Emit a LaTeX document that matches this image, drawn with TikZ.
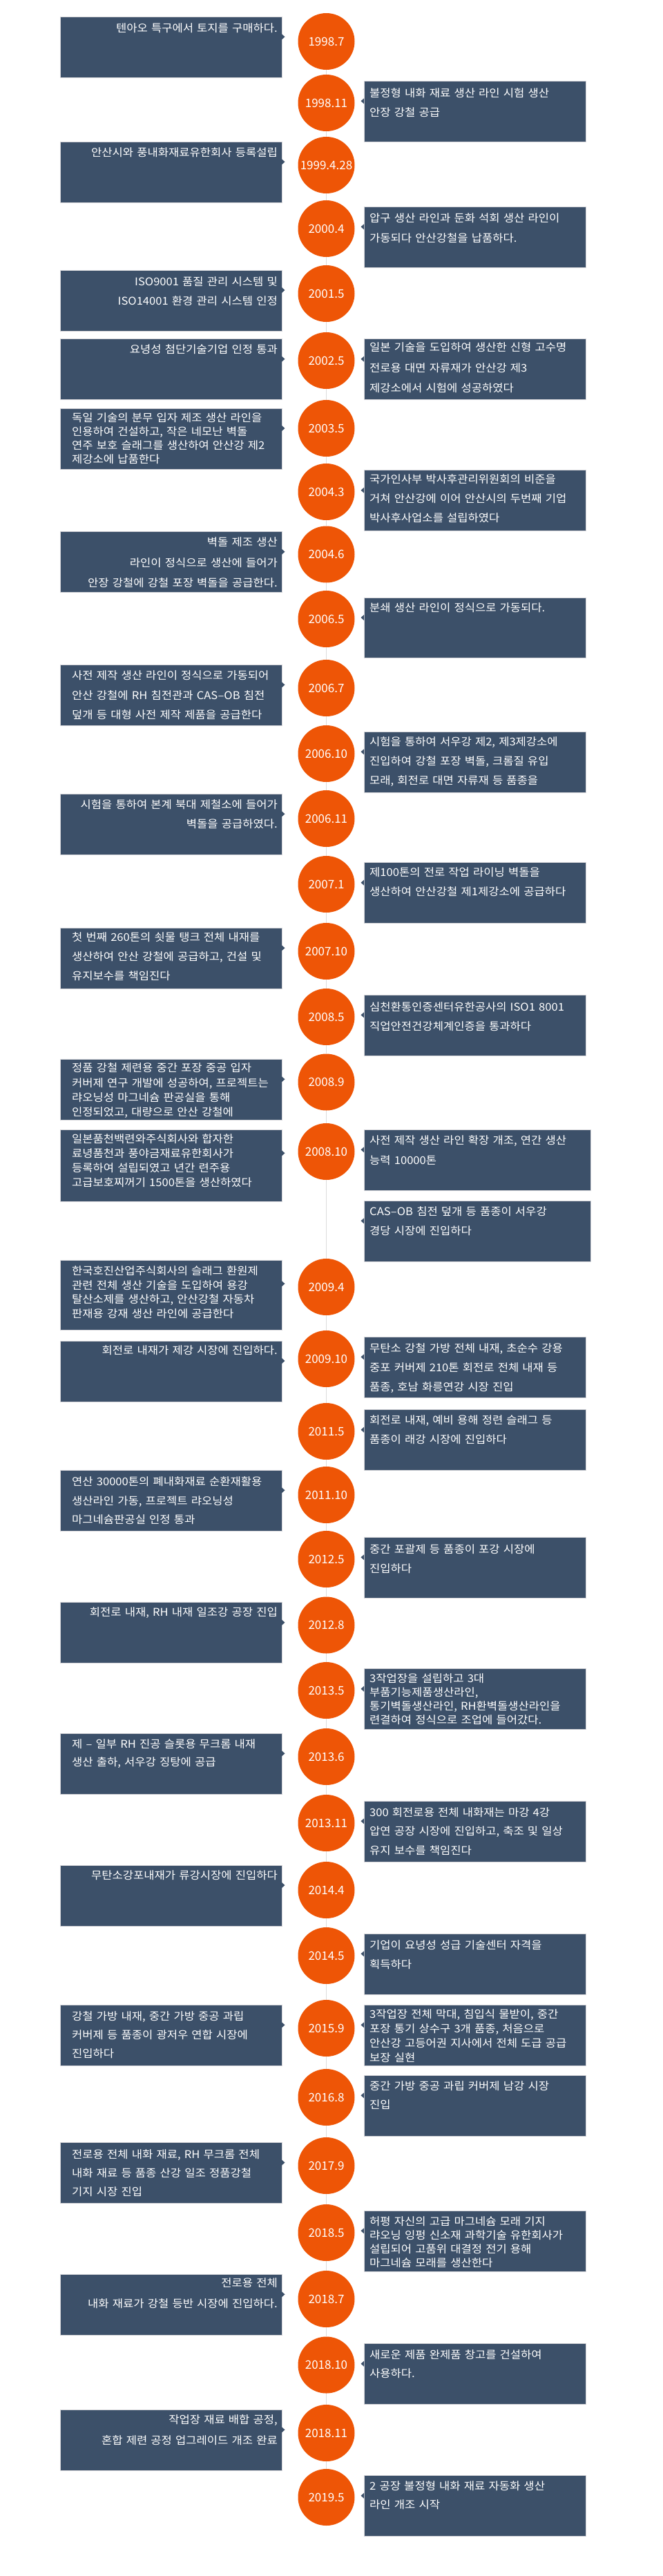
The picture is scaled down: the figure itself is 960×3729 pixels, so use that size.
\documentclass[tikz,border=0pt]{standalone}
\usepackage{fontspec}
\newfontfamily\kr{Noto Sans CJK KR}[FakeStretch=1.07]
\newfontfamily\krd{Noto Sans CJK KR}
\definecolor{boxc}{RGB}{60,80,105}
\definecolor{orangec}{RGB}{238,85,6}
\definecolor{bordc}{RGB}{212,212,216}
\definecolor{connc}{RGB}{220,220,220}
\tikzset{
  ebox/.style={draw=bordc, line width=0.8pt, fill=boxc, minimum width=321pt, anchor=north west, inner sep=0pt, outer sep=0pt},
  dot/.style={circle, fill=orangec, minimum size=82pt, inner sep=0pt, text=white, font=\krd\fontsize{17}{20}\selectfont},
  conn/.style={draw=connc, line width=0.8pt},
  txt/.style={text=white, inner sep=0pt, text width=330pt},
  tl/.style={txt, align=left, anchor=base west, font=\kr\fontsize{15.5}{#1}\selectfont},
  tl/.default=28,
  tr/.style={txt, align=right, anchor=base east, font=\kr\fontsize{15.5}{#1}\selectfont},
  tr/.default=28,
}
\newcommand\lbox[4]{%
  \node[ebox, minimum height=#3pt] (#1) at (87,#2) {};
  \fill[boxc] ([yshift={-(#4-4)*1pt}]#1.north east) -- ++(4.5,4) -- ++(-4.5,4) -- cycle;}
\newcommand\rbox[5][321]{%
  \node[ebox, minimum height=#4pt, minimum width=#1pt] (#2) at (527,#3) {};
  \fill[boxc] ([yshift={-(#5-4)*1pt}]#2.north west) -- ++(-4.5,4) -- ++(4.5,4) -- cycle;}
\begin{document}
\begin{tikzpicture}[x=1pt,y=-1pt]
\useasboundingbox (0,0) rectangle (960,3729);
% circles
\node[dot] (c1) at (472.5,60) {1998.7};
\node[dot] (c2) at (472.5,149) {1998.11};
\node[dot] (c3) at (472.5,239) {1999.4.28};
\node[dot] (c4) at (472.5,331) {2000.4};
\node[dot] (c5) at (472.5,425) {2001.5};
\node[dot] (c6) at (472.5,522) {2002.5};
\node[dot] (c7) at (472.5,620) {2003.5};
\node[dot] (c8) at (472.5,712) {2004.3};
\node[dot] (c9) at (472.5,802.5) {2004.6};
\node[dot] (c10) at (472.5,896) {2006.5};
\node[dot] (c11) at (472.5,996) {2006.7};
\node[dot] (c12) at (472.5,1091) {2006.10};
\node[dot] (c13) at (472.5,1185) {2006.11};
\node[dot] (c14) at (472.5,1280) {2007.1};
\node[dot] (c15) at (472.5,1377) {2007.10};
\node[dot] (c16) at (472.5,1472) {2008.5};
\node[dot] (c17) at (472.5,1566.5) {2008.9};
\node[dot] (c18) at (472.5,1667) {2008.10};
\node[dot] (c19) at (472.5,1863) {2009.4};
\node[dot] (c20) at (472.5,1967) {2009.10};
\node[dot] (c21) at (472.5,2072) {2011.5};
\node[dot] (c22) at (472.5,2164) {2011.10};
\node[dot] (c23) at (472.5,2257) {2012.5};
\node[dot] (c24) at (472.5,2352.5) {2012.8};
\node[dot] (c25) at (472.5,2447) {2013.5};
\node[dot] (c26) at (472.5,2543) {2013.6};
\node[dot] (c27) at (472.5,2639) {2013.11};
\node[dot] (c28) at (472.5,2736) {2014.4};
\node[dot] (c29) at (472.5,2831) {2014.5};
\node[dot] (c30) at (472.5,2936) {2015.9};
\node[dot] (c31) at (472.5,3036) {2016.8};
\node[dot] (c32) at (472.5,3135) {2017.9};
\node[dot] (c33) at (472.5,3232) {2018.5};
\node[dot] (c34) at (472.5,3328) {2018.7};
\node[dot] (c35) at (472.5,3423.5) {2018.10};
\node[dot] (c36) at (472.5,3522) {2018.11};
\node[dot] (c37) at (472.5,3615) {2019.5};
\foreach \i [evaluate=\i as \j using int(\i+1)] in {1,...,36}
  \draw[conn] (c\i.south) -- (c\j.north);
% boxes
\lbox{b1}{24.3}{88}{29}
\rbox{b2}{117.3}{88}{29}
\lbox{b3}{205.3}{88}{29}
\rbox{b4}{299.3}{88}{29}
\lbox{b5}{391}{88.3}{29}
\lbox{b6a}{490.7}{87.3}{29}
\rbox{b6b}{490.7}{87.3}{29}
\lbox{b7}{591}{88.3}{29}
\rbox{b8}{680.7}{87.3}{29}
\lbox{b9}{769.7}{87.6}{29}
\rbox{b10}{865}{87.3}{29}
\lbox{b11}{962.3}{88}{29}
\rbox{b12}{1059.3}{88}{29}
\lbox{b13}{1149.3}{87.7}{29}
\rbox{b14}{1248.7}{87.6}{29}
\lbox{b15}{1343.3}{88}{29}
\rbox{b16}{1440.3}{88}{29}
\lbox{b17}{1533.3}{87.7}{29}
\lbox{b18a}{1635.3}{104}{34}
\rbox[328]{b18b}{1635.3}{88}{29}
\rbox[328]{b18c}{1738.3}{87.7}{29}
\lbox{b19}{1824.3}{100.7}{34}
\lbox{b20a}{1941}{88.3}{29}
\rbox{b20b}{1935.3}{88}{29}
\rbox{b21}{2040.7}{87.3}{29}
\lbox{b22}{2128.3}{87.7}{29}
\rbox{b23}{2225.3}{88}{29}
\lbox{b24}{2319.7}{87.6}{29}
\rbox{b25}{2415.7}{87.6}{29}
\lbox{b26}{2509.3}{88}{29}
\rbox{b27}{2607.3}{88}{29}
\lbox{b28}{2700}{88.3}{29}
\rbox{b29}{2799.3}{88}{29}
\lbox{b30a}{2902.3}{88}{29}
\rbox{b30b}{2902.3}{88}{29}
\rbox{b31}{3004.3}{88}{29}
\lbox{b32}{3101.5}{87.8}{29}
\rbox{b33}{3200.3}{88}{29}
\lbox{b34}{3292.3}{87.7}{29}
\rbox{b35}{3392.7}{87.3}{29}
\lbox{b36}{3488.3}{87.7}{29}
\rbox{b37}{3583.7}{87.6}{29}
% texts
\node[tr] (t1) at (402,46.9) {텐아오 특구에서 토지를 구매하다.};
\node[tl] (t2) at (535,140.9) {불정형 내화 재료 생산 라인 시험 생산\\안장 강철 공급};
\node[tr] (t3) at (402,226.9) {안산시와 풍내화재료유한회사 등록설립};
\node[tl=29] (t4) at (535,321.9) {압구 생산 라인과 둔화 석회 생산 라인이\\가동되다 안산강철을 납품하다.};
\node[tr=28.3] (t5) at (402,413.6) {ISO9001 품질 관리 시스템 및\\ISO14001 환경 관리 시스템 인정};
\node[tr] (t6a) at (402,511.9) {요녕성 첨단기술기업 인정 통과};
\node[tl=29.3] (t6b) at (535,508.9) {일본 기술을 도입하여 생산한 신형 고수명\\전로용 대면 자류재가 안산강 제3\\제강소에서 시험에 성공하였다};
\node[tl=20] (t7) at (104,610.9) {독일 기술의 분무 입자 제조 생산 라인을\\인용하여 건설하고, 작은 네모난 벽돌\\연주 보호 슬래그를 생산하여 안산강 제2\\제강소에 납품한다};
\node[tl] (t8) at (535,699.9) {국가인사부 박사후관리위원회의 비준을\\거쳐 안산강에 이어 안산시의 두번째 기업\\박사후사업소를 설립하였다};
\node[tr=29.5] (t9) at (402,790.9) {벽돌 제조 생산\hspace*{7pt}\\라인이 정식으로 생산에 들어가\\안장 강철에 강철 포장 벽돌을 공급한다.};
\node[tl] (t10) at (535,885.9) {분쇄 생산 라인이 정식으로 가동되다.};
\node[tl=28.5] (t11) at (104,983.9) {사전 제작 생산 라인이 정식으로 가동되어\\안산 강철에 RH 침전관과 CAS–OB 침전\\덮개 등 대형 사전 제작 제품을 공급한다};
\node[tl] (t12) at (535,1079.9) {시험을 통하여 서우강 제2, 제3제강소에\\진입하여 강철 포장 벽돌, 크롬질 유입\\모래, 회전로 대면 자류재 등 품종을};
\node[tr] (t13) at (402,1170.9) {시험을 통하여 본계 북대 제철소에 들어가\\벽돌을 공급하였다.};
\node[tl] (t14) at (535,1268.9) {제100톤의 전로 작업 라이닝 벽돌을\\생산하여 안산강철 제1제강소에 공급하다};
\node[tl] (t15) at (104,1362.6) {첫 번째 260톤의 쇳물 탱크 전체 내재를\\생산하여 안산 강철에 공급하고, 건설 및\\유지보수를 책임진다};
\node[tl=27.5] (t16) at (535,1463.6) {심천환통인증센터유한공사의 ISO1 8001\\직업안전건강체계인증을 통과하다};
\node[tl=21.3] (t17) at (104,1551.9) {정품 강철 제련용 중간 포장 중공 입자\\커버제 연구 개발에 성공하여, 프로젝트는\\랴오닝성 마그네슘 판공실을 통해\\인정되었고, 대량으로 안산 강철에};
\node[tl=21] (t18a) at (104,1654.9) {일본품천백련와주식회사와 합자한\\료녕품천과 풍야금재료유한회사가\\등록하여 설립되였고 년간 련주용\\고급보호찌꺼기 1500톤을 생산하였다};
\node[tl=29.3] (t18b) at (535,1656.6) {사전 제작 생산 라인 확장 개조, 연간 생산\\능력 10000톤};
\node[tl=27.7] (t18c) at (535,1759.9) {CAS–OB 침전 덮개 등 품종이 서우강\\경당 시장에 진입하다};
\node[tl=20.8] (t19) at (104,1845.2) {한국호진산업주식회사의 슬래그 환원제\\관련 전체 생산 기술을 도입하여 용강\\탈산소제를 생산하고, 안산강철 자동차\\판재용 강재 생산 라인에 공급한다};
\node[tr] (t20a) at (402,1960.9) {회전로 내재가 제강 시장에 진입하다.};
\node[tl] (t20b) at (535,1957.6) {무탄소 강철 가방 전체 내재, 초순수 강용\\중포 커버제 210톤 회전로 전체 내재 등\\품종, 호남 화릉연강 시장 진입};
\node[tl] (t21) at (535,2061.9) {회전로 내재, 예비 용해 정련 슬래그 등\\품종이 래강 시장에 진입하다};
\node[tl=27.2] (t22) at (104,2150.9) {연산 30000톤의 폐내화재료 순환재활용\\생산라인 가동, 프로젝트 랴오닝성\\마그네슘판공실 인정 통과};
\node[tl=27.5] (t23) at (535,2248.6) {중간 포괄제 등 품종이 포강 시장에\\진입하다};
\node[tr] (t24) at (402,2339.9) {회전로 내재, RH 내재 일조강 공장 진입};
\node[tl=20] (t25) at (535,2435.9) {3작업장을 설립하고 3대\\부품기능제품생산라인,\\통기벽돌생산라인, RH환벽돌생산라인을\\련결하여 정식으로 조업에 들어갔다.};
\node[tl=26.7] (t26) at (104,2530.2) {제 – 일부 RH 진공 슬롯용 무크롬 내재\\생산 출하, 서우강 징탕에 공급};
\node[tl=27.5] (t27) at (535,2629.2) {300 회전로용 전체 내화재는 마강 4강\\압연 공장 시장에 진입하고, 축조 및 일상\\유지 보수를 책임진다};
\node[tr] (t28) at (402,2720.9) {무탄소강포내재가 류강시장에 진입하다};
\node[tl=27.3] (t29) at (535,2821.9) {기업이 요녕성 성급 기술센터 자격을\\획득하다};
\node[tl=27] (t30a) at (104,2924.2) {강철 가방 내재, 중간 가방 중공 과립\\커버제 등 품종이 광저우 연합 시장에\\진입하다};
\node[tl=20.8] (t30b) at (535,2921.9) {3작업장 전체 막대, 침입식 물받이, 중간\\포장 통기 상수구 3개 품종, 처음으로\\안산강 고등어권 지사에서 전체 도급 공급\\보장 실현};
\node[tl=27.4] (t31) at (535,3025.2) {중간 가방 중공 과립 커버제 남강 시장\\진입};
\node[tl=27] (t32) at (104,3124.9) {전로용 전체 내화 재료, RH 무크롬 전체\\내화 재료 등 품종 산강 일조 정품강철\\기지 시장 진입};
\node[tl=20] (t33) at (535,3221.9) {허평 자신의 고급 마그네슘 모래 기지\\랴오닝 잉펑 신소재 과학기술 유한회사가\\설립되어 고품위 대결정 전기 용해\\마그네슘 모래를 생산한다};
\node[tr=29.3] (t34) at (402,3310.9) {전로용 전체\hspace*{7pt}\\내화 재료가 강철 등반 시장에 진입하다.};
\node[tl=27.7] (t35) at (535,3414.2) {새로운 제품 완제품 창고를 건설하여\\사용하다.};
\node[tr=29.6] (t36) at (402,3508.6) {작업장 재료 배합 공정,\\혼합 제련 공정 업그레이드 개조 완료};
\node[tl=27] (t37) at (535,3604.9) {2 공장 불정형 내화 재료 자동화 생산\\라인 개조 시작};
\end{tikzpicture}
\end{document}
